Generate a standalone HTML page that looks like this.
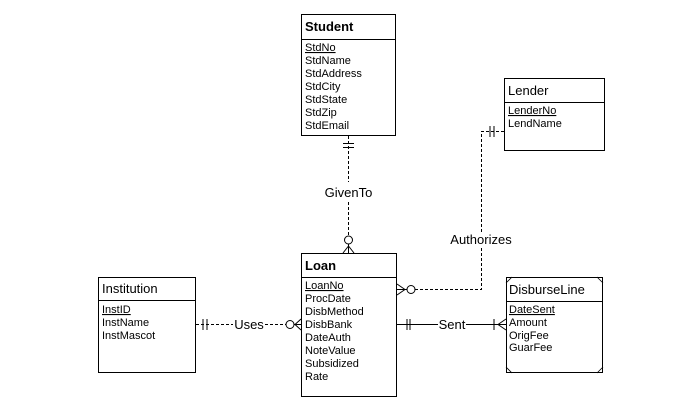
<!DOCTYPE html>
<html><head><style>
body{margin:0;background:#fff;}
svg{display:block;font-family:"Liberation Sans",Arial,sans-serif;}
</style></head><body>
<svg width="678" height="419" viewBox="0 0 678 419" xmlns="http://www.w3.org/2000/svg">
<g fill="#fff" stroke="#000" stroke-width="1">
<rect x="301.5" y="14.5" width="94" height="121"/>
<line x1="301" y1="39.5" x2="396" y2="39.5"/>
<rect x="504.5" y="78.5" width="100" height="72"/>
<line x1="504" y1="102.5" x2="605" y2="102.5"/>
<rect x="301.5" y="253.5" width="95" height="143"/>
<line x1="301" y1="277.5" x2="397" y2="277.5"/>
<rect x="98.5" y="277.5" width="97" height="95"/>
<line x1="98" y1="300.5" x2="196" y2="300.5"/>
<rect x="506.5" y="277.5" width="96" height="95"/>
<line x1="506" y1="301.5" x2="603" y2="301.5"/>
</g>
<g stroke="#000" stroke-width="0.8" fill="none">
<line x1="506" y1="283" x2="512" y2="277"/><line x1="597" y1="277" x2="603" y2="283"/>
<line x1="506" y1="367" x2="512" y2="373"/><line x1="597" y1="373" x2="603" y2="367"/>
</g>
<g stroke="#000" stroke-width="1" fill="none" stroke-dasharray="3,2">
<line x1="348.5" y1="136" x2="348.5" y2="182"/>
<line x1="348.5" y1="202" x2="348.5" y2="236"/>
<polyline points="504,131.5 481.5,131.5 481.5,232"/>
<polyline points="481.5,248 481.5,289.5 415,289.5"/>
<line x1="196" y1="324.5" x2="233" y2="324.5"/>
<line x1="265" y1="324.5" x2="286" y2="324.5"/>
</g>
<g stroke="#000" stroke-width="1" fill="none">
<line x1="343" y1="143.5" x2="354" y2="143.5"/><line x1="343" y1="147.5" x2="354" y2="147.5"/>
<circle cx="348.5" cy="240" r="4" fill="#fff"/>
<line x1="348.5" y1="244" x2="348.5" y2="253"/>
<line x1="348.5" y1="246" x2="343" y2="253"/><line x1="348.5" y1="246" x2="354" y2="253"/>
<line x1="490" y1="126" x2="490" y2="137"/><line x1="494" y1="126" x2="494" y2="137"/>
<circle cx="411" cy="289.5" r="4" fill="#fff"/>
<line x1="396" y1="289.5" x2="407" y2="289.5"/>
<line x1="405" y1="289.5" x2="397" y2="284"/><line x1="405" y1="289.5" x2="397" y2="295"/>
<line x1="203" y1="319" x2="203" y2="330"/><line x1="207" y1="319" x2="207" y2="330"/>
<circle cx="290" cy="324.5" r="4" fill="#fff"/>
<line x1="294" y1="324.5" x2="301" y2="324.5"/>
<line x1="295" y1="324.5" x2="301" y2="319"/><line x1="295" y1="324.5" x2="301" y2="330"/>
<line x1="397" y1="324.5" x2="438" y2="324.5"/>
<line x1="466" y1="324.5" x2="506" y2="324.5"/>
<line x1="407" y1="319" x2="407" y2="330"/><line x1="410" y1="319" x2="410" y2="330"/>
<line x1="494" y1="319" x2="494" y2="330"/>
<line x1="498" y1="324.5" x2="506" y2="319"/><line x1="498" y1="324.5" x2="506" y2="330"/>
</g>
<g font-size="11" fill="#000">
<text x="305" y="31" font-size="13" font-weight="bold">Student</text>
<text x="305" y="51" text-decoration="underline">StdNo</text>
<text x="305" y="64">StdName</text>
<text x="305" y="77">StdAddress</text>
<text x="305" y="90">StdCity</text>
<text x="305" y="103">StdState</text>
<text x="305" y="116">StdZip</text>
<text x="305" y="129">StdEmail</text>
<text x="508" y="95" font-size="13">Lender</text>
<text x="508" y="114" text-decoration="underline">LenderNo</text>
<text x="508" y="127">LendName</text>
<text x="305" y="270" font-size="13" font-weight="bold">Loan</text>
<text x="305" y="289" text-decoration="underline">LoanNo</text>
<text x="305" y="302">ProcDate</text>
<text x="305" y="315">DisbMethod</text>
<text x="305" y="328">DisbBank</text>
<text x="305" y="341">DateAuth</text>
<text x="305" y="354">NoteValue</text>
<text x="305" y="367">Subsidized</text>
<text x="305" y="380">Rate</text>
<text x="102" y="293" font-size="13">Institution</text>
<text x="102" y="313" text-decoration="underline">InstID</text>
<text x="102" y="326">InstName</text>
<text x="102" y="339">InstMascot</text>
<text x="509" y="294" font-size="13">DisburseLine</text>
<text x="509" y="313" text-decoration="underline">DateSent</text>
<text x="509" y="326">Amount</text>
<text x="509" y="339">OrigFee</text>
<text x="509" y="351">GuarFee</text>
<text x="348.5" y="197" font-size="13" text-anchor="middle">GivenTo</text>
<text x="481" y="244" font-size="13" text-anchor="middle">Authorizes</text>
<text x="249" y="329" font-size="13" text-anchor="middle">Uses</text>
<text x="452" y="329" font-size="13" text-anchor="middle">Sent</text>
</g>
</svg>
</body></html>
